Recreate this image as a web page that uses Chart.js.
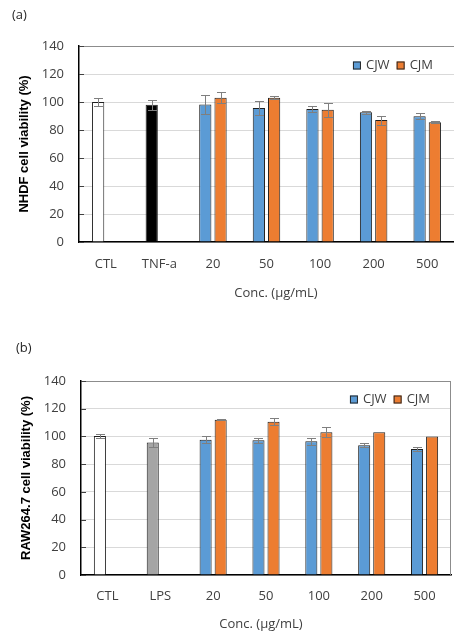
<!DOCTYPE html>
<html>
<head>
<meta charset="utf-8">
<script src="https://cdn.jsdelivr.net/npm/chart.js@4/dist/chart.umd.min.js"></script>
<style>
  body { margin: 0; width: 454px; height: 631px; position: relative; overflow: hidden; background: #fff; }
  .panel { position: absolute; left: 0; width: 454px; }
  .txt { position: absolute; font-family: "Open Sans", sans-serif; font-size: 13px; line-height: 16px; color: #262626; white-space: nowrap; }
  .xt { transform: translateX(-50%); color: #404040; }
</style>
</head>
<body>
<div class="panel" style="top:0;height:310px"><canvas id="chartA"></canvas></div>
<div class="panel" style="top:320px;height:311px"><canvas id="chartB"></canvas></div>
<div class="txt" style="left:12px;top:6px">(a)</div>
<div class="txt" style="left:16px;top:339px">(b)</div>
<div class="txt xt" style="left:276px;top:284px">Conc. (µg/mL)</div>
<div class="txt xt" style="left:261px;top:615px">Conc. (µg/mL)</div>
<script>
// panel (a) NHDF
var labelsA = ['CTL', 'TNF-a', '20', '50', '100', '200', '500'];
var cjwA    = [100, 98, 98.3, 95.7, 95, 92.6, 89.8];
var cjwErrA = [2.6, 3.7, 6.6, 5.2, 2.4, 1.2, 2.1];
var cjmA    = [null, null, 103.1, 103.1, 94.5, 87.1, 85.5];
var cjmErrA = [null, null, 4.1, 0.9, 5.1, 3.2, 0.8];

// panel (b) RAW264.7
var labelsB = ['CTL', 'LPS', '20', '50', '100', '200', '500'];
var cjwB    = [100.3, 95.6, 97.6, 97.2, 96.5, 93.6, 90.9];
var cjwErrB = [1.1, 3.5, 2.6, 1.7, 2.4, 1.3, 1.3];
var cjmB    = [null, null, 112, 110.6, 103, 103, 100];
var cjmErrB = [null, null, 0.5, 2.4, 3.7, 0, 0];

var yTicks = [0, 20, 40, 60, 80, 100, 120, 140];

var BLUE = '#5b9bd5', ORANGE = '#ed7d31';

Chart.defaults.font.family = '"Open Sans", sans-serif';
Chart.defaults.font.size = 13;
Chart.defaults.color = '#404040';

// error bars, inner y ticks, plot frame and the in-plot legend
var extras = {
  id: 'extras',
  afterDatasetsDraw: function(chart, args, opts) {
    var ctx = chart.ctx, ys = chart.scales.y, a = chart.chartArea;
    ctx.save();
    // frame
    ctx.strokeStyle = '#8c8c8c';
    ctx.lineWidth = 1;
    ctx.beginPath();
    ctx.moveTo(a.left, a.top + 0.5);
    ctx.lineTo(a.right, a.top + 0.5);
    if (opts.rightBorder) {
      ctx.moveTo(a.right - 0.5, a.top);
      ctx.lineTo(a.right - 0.5, a.bottom);
    }
    ctx.stroke();
    // inner ticks
    ctx.strokeStyle = '#404040';
    ctx.beginPath();
    ys.ticks.forEach(function(t) {
      var py = Math.round(ys.getPixelForValue(t.value)) + 0.5;
      ctx.moveTo(a.left, py);
      ctx.lineTo(a.left + 5, py);
    });
    ctx.stroke();
    // error bars
    ctx.strokeStyle = '#7f7f7f';
    chart.data.datasets.forEach(function(ds, i) {
      var meta = chart.getDatasetMeta(i);
      meta.data.forEach(function(bar, j) {
        var v = ds.data[j], e = ds.errors[j];
        if (v == null || !e) return;
        var x = Math.round(bar.x) + 0.5;
        var y1 = Math.round(ys.getPixelForValue(v + e)) + 0.5;
        var y2 = Math.round(ys.getPixelForValue(v - e)) + 0.5;
        ctx.beginPath();
        ctx.moveTo(x, y1); ctx.lineTo(x, y2);
        ctx.moveTo(x - 4.5, y1); ctx.lineTo(x + 4.5, y1);
        ctx.moveTo(x - 4.5, y2); ctx.lineTo(x + 4.5, y2);
        ctx.stroke();
      });
    });
    // legend
    ctx.font = '13px "Open Sans", sans-serif';
    ctx.textBaseline = 'middle';
    ctx.fillStyle = '#404040';
    var ly = a.top + opts.legendDy;
    var xr = a.right - opts.legendRight;
    var items = chart.data.datasets.slice().reverse();
    items.forEach(function(ds) {
      var w = ctx.measureText(ds.label).width;
      var tx = xr - w;
      ctx.fillStyle = '#404040';
      ctx.fillText(ds.label, tx, ly);
      var bx = tx - 5 - 8;
      ctx.fillStyle = ds.legendColor;
      ctx.fillRect(bx, ly - 4, 8, 8);
      ctx.strokeStyle = '#262626';
      ctx.strokeRect(bx + 0.5, ly - 3.5, 7, 7);
      xr = bx - 7;
    });
    ctx.restore();
  }
};

function makeChart(id, labels, cjw, cjwErr, cjm, cjmErr, ctrlColor, yTitle, g) {
  var cjwColors = ['#ffffff', ctrlColor].concat(labels.slice(2).map(function() { return BLUE; }));
  return new Chart(document.getElementById(id), {
    type: 'bar',
    data: {
      labels: labels,
      datasets: [
        { label: 'CJW', data: cjw, errors: cjwErr, backgroundColor: cjwColors, legendColor: BLUE,
          borderColor: '#1f1f1f', borderWidth: 1 },
        { label: 'CJM', data: cjm, errors: cjmErr, backgroundColor: ORANGE, legendColor: ORANGE,
          borderColor: '#1f1f1f', borderWidth: 1 }
      ]
    },
    options: {
      responsive: true,
      maintainAspectRatio: false,
      animation: false,
      layout: { padding: { top: g.top, right: g.right, left: 0, bottom: 0 } },
      datasets: { bar: { categoryPercentage: 0.57, barPercentage: 0.8 } },
      plugins: {
        legend: { display: false },
        tooltip: { enabled: false },
        extras: { rightBorder: g.rightBorder, legendDy: g.legendDy, legendRight: g.legendRight }
      },
      scales: {
        x: {
          grid: { display: false, drawTicks: false },
          border: { color: '#000', width: 1.5 },
          ticks: { padding: g.xPad, color: '#404040' },
          afterFit: function(s) { s.height = g.xH; }
        },
        y: {
          min: 0, max: 140,
          afterBuildTicks: function(s) { s.ticks = yTicks.map(function(v) { return { value: v }; }); },
          grid: { color: '#d9d9d9', drawTicks: false },
          border: { color: '#000', width: 1.5 },
          ticks: { padding: 15, color: '#404040' },
          title: { display: true, text: yTitle, color: '#000',
                   font: { family: '"Liberation Sans", Arial, sans-serif', size: 13, weight: 'bold' },
                   padding: { top: g.tPad, bottom: 0 } },
          afterFit: function(s) { s.width = g.left; }
        }
      }
    },
    plugins: [extras]
  });
}

makeChart('chartA', labelsA, cjwA, cjwErrA, cjmA, cjmErrA, '#000000', 'NHDF cell viability (%)',
  { top: 46, right: 0, left: 79, xH: 68, xPad: 14, tPad: 17, rightBorder: false, legendDy: 19.5, legendRight: 21 });
makeChart('chartB', labelsB, cjwB, cjwErrB, cjmB, cjmErrB, '#a5a5a5', 'RAW264.7 cell viability (%)',
  { top: 61, right: 3, left: 81, xH: 56, xPad: 13, tPad: 19, rightBorder: true, legendDy: 18.5, legendRight: 21 });
</script>
</body>
</html>
